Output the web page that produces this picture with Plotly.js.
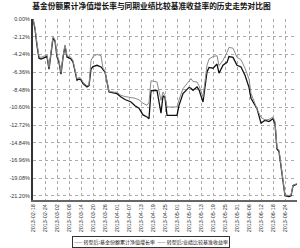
<!DOCTYPE html>
<html>
<head>
<meta charset="utf-8">
<script src="https://cdn.plot.ly/plotly-3.0.1.min.js"></script>
<style>html,body{margin:0;padding:0;background:#fff;}#chart{width:300px;height:248px;}</style>
</head>
<body>
<div id="chart"></div>
<script>
const dates = ['2013-02-18','2013-02-19','2013-02-20','2013-02-21','2013-02-22','2013-02-23','2013-02-24','2013-02-25','2013-02-26','2013-02-27','2013-02-28','2013-03-01','2013-03-02','2013-03-03','2013-03-04','2013-03-05','2013-03-06','2013-03-07','2013-03-08','2013-03-09','2013-03-10','2013-03-12','2013-03-13','2013-03-14','2013-03-15','2013-03-17','2013-03-18','2013-03-19','2013-03-20','2013-03-22','2013-03-24','2013-03-25','2013-03-26','2013-03-28','2013-04-01','2013-04-03','2013-04-05','2013-04-08','2013-04-10','2013-04-12','2013-04-14','2013-04-16','2013-04-17','2013-04-18','2013-04-21','2013-04-23','2013-04-24','2013-04-25','2013-04-26','2013-05-01','2013-05-02','2013-05-04','2013-05-07','2013-05-08','2013-05-09','2013-05-11','2013-05-12','2013-05-14','2013-05-16','2013-05-17','2013-05-19','2013-05-21','2013-05-22','2013-05-24','2013-05-26','2013-05-27','2013-05-29','2013-05-31','2013-06-02','2013-06-04','2013-06-06','2013-06-07','2013-06-10','2013-06-12','2013-06-14','2013-06-16','2013-06-18','2013-06-19','2013-06-20','2013-06-21','2013-06-22','2013-06-24','2013-06-26','2013-06-27','2013-06-28','2013-06-30'];
const fundGrowth = [0.00,-1.20,-3.20,-4.70,-4.80,-4.70,-4.60,-4.50,-6.00,-4.00,-2.30,-2.65,-4.50,-5.20,-6.60,-4.60,-3.25,-4.55,-4.70,-4.80,-5.15,-7.35,-7.20,-7.30,-7.75,-8.15,-8.00,-6.00,-5.70,-5.55,-5.75,-6.00,-6.35,-8.75,-8.95,-9.35,-9.65,-9.95,-10.40,-10.70,-11.50,-11.75,-11.95,-8.60,-8.55,-11.30,-9.20,-9.40,-11.55,-11.55,-10.35,-8.95,-8.20,-8.30,-8.55,-8.15,-8.50,-9.95,-6.35,-5.80,-5.90,-5.40,-6.50,-5.55,-5.20,-4.50,-4.60,-5.55,-5.75,-6.75,-8.20,-9.50,-10.75,-12.50,-12.15,-12.30,-11.95,-12.55,-15.60,-15.90,-17.60,-21.20,-21.30,-21.20,-20.00,-19.80];
const benchmark = [0.00,-1.00,-3.00,-4.50,-4.60,-4.50,-4.40,-4.30,-5.80,-3.80,-2.10,-2.50,-4.30,-5.00,-6.40,-4.50,-3.10,-4.40,-4.50,-4.60,-5.00,-7.20,-7.00,-7.10,-7.60,-8.00,-7.90,-5.00,-4.50,-4.25,-4.40,-5.90,-6.25,-8.70,-8.80,-9.15,-9.30,-9.40,-9.50,-9.70,-10.10,-10.35,-10.00,-7.40,-7.55,-9.75,-8.75,-9.20,-10.55,-10.55,-9.70,-8.35,-7.35,-7.15,-7.50,-7.55,-8.00,-9.35,-5.55,-4.80,-4.50,-4.40,-5.60,-4.95,-4.00,-3.40,-3.50,-4.60,-4.90,-5.90,-7.20,-8.90,-10.80,-11.80,-12.10,-12.05,-11.75,-12.30,-15.45,-15.70,-17.50,-21.10,-21.15,-21.10,-19.90,-19.75];
const seriesNames = ['转型后:基金份额累计净值增长率','转型后:业绩比较基准收益率'];
const seriesColors = ['#111111','#8a8a8a'];
const yTickVals = [0,-2.12,-4.24,-6.36,-8.48,-10.60,-12.72,-14.84,-16.96,-19.08,-21.20];
const yTickText = ['0.00%','-2.12%','-4.24%','-6.36%','-8.48%','-10.60%','-12.72%','-14.84%','-16.96%','-19.08%','-21.20%'];
const xTickVals = ['2013-02-18','2013-02-24','2013-03-02','2013-03-08','2013-03-14','2013-03-20','2013-03-26','2013-04-01','2013-04-07','2013-04-13','2013-04-19','2013-04-25','2013-05-01','2013-05-07','2013-05-13','2013-05-19','2013-05-25','2013-05-31','2013-06-06','2013-06-12','2013-06-18','2013-06-24'];
const titleText = '基金份额累计净值增长率与同期业绩比较基准收益率的历史走势对比图';

const traces = [
  {x: dates, y: fundGrowth, name: seriesNames[0], type: 'scatter', mode: 'lines', line: {color: seriesColors[0], width: 1.3}},
  {x: dates, y: benchmark, name: seriesNames[1], type: 'scatter', mode: 'lines', line: {color: seriesColors[1], width: 1}}
];
const legendText = '<span style="color:' + seriesColors[0] + '">——</span> ' + seriesNames[0] +
                   '  <span style="color:' + seriesColors[0] + '">——</span> ' + seriesNames[1];
const layout = {
  width: 300, height: 248,
  margin: {l: 33, r: 3, t: 19, b: 48},
  paper_bgcolor: '#ffffff', plot_bgcolor: '#ffffff',
  font: {family: 'Liberation Sans, Arial, sans-serif', size: 6, color: '#333'},
  title: {text: titleText, x: 0.505, xanchor: 'center', y: 0.985, yanchor: 'top',
          font: {family: 'Noto Sans CJK SC', size: 7.7, color: '#111', weight: 'bold'}},
  xaxis: {type: 'date', range: ['2013-02-18', '2013-06-30'], tickmode: 'array', tickvals: xTickVals,
          ticktext: xTickVals, tickangle: -90, tickfont: {size: 5.5, color: '#333'},
          showgrid: true, gridcolor: '#aaaaaa', griddash: 'dot', gridwidth: 1,
          showline: true, linecolor: '#666', linewidth: 2, ticks: '', zeroline: false, fixedrange: true},
  yaxis: {range: [-21.7, 0], tickmode: 'array', tickvals: yTickVals, ticktext: yTickText,
          tickfont: {size: 5.5, color: '#333'}, showgrid: true, gridcolor: '#aaaaaa', griddash: 'dot', gridwidth: 1,
          showline: true, linecolor: '#333', linewidth: 2, ticks: '', zeroline: false, fixedrange: true},
  showlegend: false,
  annotations: [{
    xref: 'paper', yref: 'paper', x: 0.447, y: -0.2, xanchor: 'center', yanchor: 'top',
    text: legendText, showarrow: false, bordercolor: '#333', borderwidth: 1, borderpad: 1, bgcolor: '#fff',
    font: {family: 'Noto Sans CJK SC', size: 5, color: '#111'}
  }]
};
Plotly.newPlot('chart', traces, layout, {displayModeBar: false, staticPlot: true});
</script>
</body>
</html>
